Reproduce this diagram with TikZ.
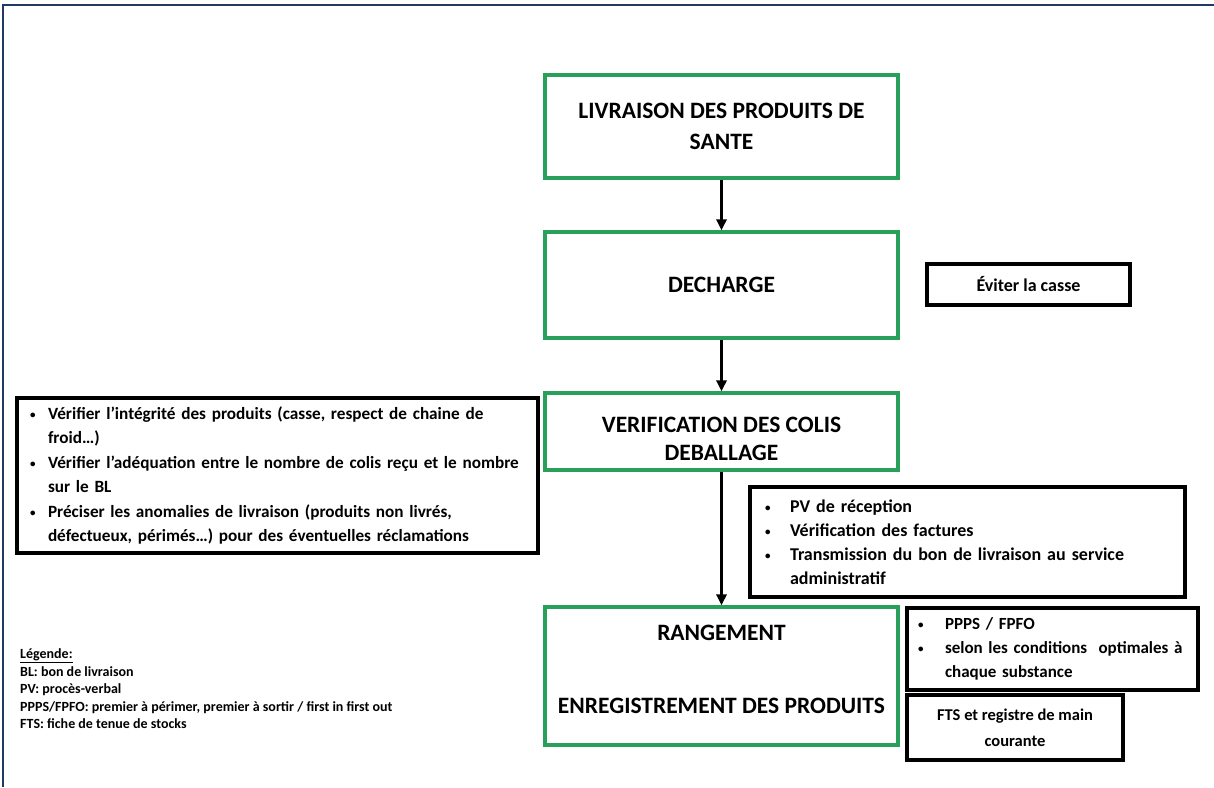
\documentclass[tikz,border=0pt]{standalone}
\usepackage{fontspec}
\setmainfont{Carlito}
\usetikzlibrary{arrows.meta}
\definecolor{frameblue}{RGB}{31,56,100}
\definecolor{stepgreen}{RGB}{40,160,90}
% small bullet, bullet line with a given indent, and its continuation line
\newcommand\smallbul{\raisebox{0.1ex}{\fontsize{11}{11}\selectfont •}}
\newcommand\bulline[2]{\mbox{\makebox[#1][l]{\smallbul}#2}}
\newcommand\contline[2]{\mbox{\hspace*{#1}#2}}
\begin{document}
\begin{tikzpicture}[x=1pt,y=-1pt,
  greenbox/.style={draw=stepgreen, line width=3.2pt, rectangle, inner sep=0pt},
  notebox/.style={draw=black, line width=3.2pt, rectangle, inner sep=0pt, fill=white},
  bigtext/.style={font=\bfseries\fontsize{23.5}{31}\selectfont, align=center, inner sep=0pt},
  notetext/.style={font=\bfseries\fontsize{17.2}{24.4}\selectfont},
  flow/.style={-{Triangle[length=11pt,width=10pt]}, line width=2.8pt, black},
]
\useasboundingbox (0,0) rectangle (1214,787);
\fill[white] (0,0) rectangle (1214,787);

% outer frame (top and left edges)
\draw[frameblue, line width=2.2pt] (3,787) -- (3,5) -- (1214,5);

% main process steps
\node[greenbox, bigtext, minimum width=353pt, minimum height=103pt] (livr) at (721.5,126.5)
  {LIVRAISON DES PRODUITS DE\\SANTE};
\node[greenbox, bigtext, minimum width=353pt, minimum height=106pt] (dech) at (721.5,285)
  {DECHARGE};
\node[greenbox, minimum width=353pt, minimum height=77pt] (verif) at (721.5,431.5) {};
\node[bigtext, font=\bfseries\fontsize{23.5}{28}\selectfont] (veriftxt) at (721.5,439)
  {VERIFICATION DES COLIS\\DEBALLAGE};
\node[greenbox, minimum width=353pt, minimum height=138pt] (rang) at (721.5,676) {};
\node[bigtext, font=\bfseries\fontsize{23.5}{73}\selectfont] (rangtxt) at (721.5,669)
  {RANGEMENT\\ENREGISTREMENT DES PRODUITS};

\draw[flow] (livr) -- (dech);
\draw[flow] (dech) -- (verif);
\draw[flow] (verif) -- (rang);

% notes
\node[notebox, font=\bfseries\fontsize{18}{20}\selectfont,
  minimum width=203pt, minimum height=41pt] (evit) at (1028.5,284.5) {Éviter la casse};

\node[notebox, notetext, align=left, text width=495pt,
  minimum width=521pt, minimum height=155pt] (controle) at (277.5,475.5)
  {\bulline{18pt}{Vérifier l’intégrité des produits (casse, respect de chaine de}\\
   \contline{18pt}{froid…)}\\
   \bulline{18pt}{Vérifier l’adéquation entre le nombre de colis reçu et le nombre}\\
   \contline{18pt}{sur le BL}\\
   \bulline{18pt}{Préciser les anomalies de livraison (produits non livrés,}\\
   \contline{18pt}{défectueux, périmés…) pour des éventuelles réclamations}};

\node[notebox, align=left, text width=405pt, font=\bfseries\fontsize{18}{24}\selectfont,
  minimum width=435pt, minimum height=110pt] (admin) at (967.5,542)
  {\bulline{25pt}{PV de réception}\\
   \bulline{25pt}{Vérification des factures}\\
   \bulline{25pt}{Transmission du bon de livraison au service}\\
   \contline{25pt}{administratif}};

\node[notebox, align=left, text width=269pt, font=\bfseries\fontsize{17}{24}\selectfont,
  minimum width=291pt, minimum height=82pt] (stock) at (1052.5,649)
  {\bulline{27pt}{PPPS / FPFO}\\
   \bulline{27pt}{selon les conditions \ optimales à}\\
   \contline{27pt}{chaque substance}};

\node[notebox, align=center, font=\bfseries\fontsize{16.5}{26}\selectfont,
  minimum width=216pt, minimum height=65pt] (fts) at (1015,727.5)
  {FTS et registre de main\\courante};

% legend
\node[anchor=west, align=left, inner sep=0pt,
  font=\bfseries\fontsize{14}{17.5}\selectfont] (legende) at (20,689)
  {\underline{Légende:}\\
   BL: bon de livraison\\
   PV: procès-verbal\\
   PPPS/FPFO: premier à périmer, premier à sortir / first in first out\\
   FTS: fiche de tenue de stocks};
\end{tikzpicture}
\end{document}
